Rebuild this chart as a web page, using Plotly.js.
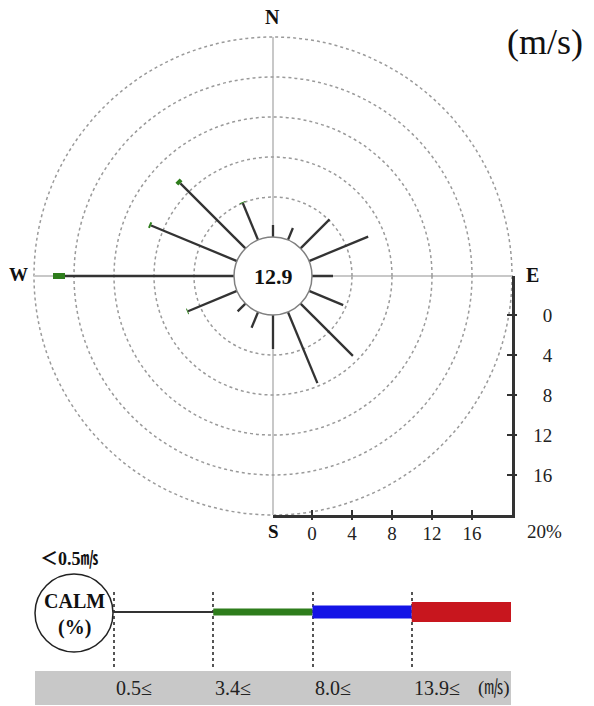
<!DOCTYPE html>
<html><head><meta charset="utf-8">
<script src="https://cdn.plot.ly/plotly-3.0.1.min.js"></script>
<style>html,body{margin:0;padding:0;background:#fff}#chart{width:594px;height:706px}</style>
</head><body><div id="chart"></div>
<script>
// ---- data ----
const directions = ['N','NNE','NE','ENE','E','ESE','SE','SSE','S','SSW','SW','WSW','W','WNW','NW','NNW'];
const freq_0_5_to_3_4  = [1.2,1.3,4.1,6.4,2.1,3.7,7.4,7.7,3.4,1.7,1.1,5.3,16.9,9.3,9.2,4.0];
const freq_3_4_to_8_0  = [0,0,0,0,0,0,0,0,0,0,0,0.1,1.2,0.2,0.4,0.1];
const freq_8_0_to_13_9 = [0,0,0,0,0,0,0,0,0,0,0,0,0,0,0,0];
const freq_13_9_up     = [0,0,0,0,0,0,0,0,0,0,0,0,0,0,0,0];
const calmPercent = 12.9;
const classLabels = ['0.5≤','3.4≤','8.0≤','13.9≤'];
const scaleTicks = [0,4,8,12,16];
const ringValues = [4,8,12,16,20];

// ---- styles ----
const classSeries = [freq_0_5_to_3_4, freq_3_4_to_8_0, freq_8_0_to_13_9, freq_13_9_up];
const classColors = ['#333333','#2e7d1c','#1414e6','#c8161e'];
const roseWidths  = [2.3, 6, 11, 16];
const legendWidths = [2, 7, 13, 20];
const SERIF = 'Liberation Serif, "Times New Roman", serif';

const W = 594, H = 706;
const px = x => x / W, py = y => 1 - y / H;
const CX = 273, CY = 276, R0 = 39, R = 239;
const RMAX = ringValues[ringValues.length - 1];

const traces = [];
// wind rose spokes, stacked by speed class
const base = directions.map(() => 0);
classSeries.forEach((vals, k) => {
  const r = [], th = [];
  vals.forEach((v, i) => {
    if (v > 0) { r.push(base[i], base[i] + v, null); th.push(directions[i], directions[i], null); }
    base[i] += v;
  });
  traces.push({type:'scatterpolar', mode:'lines', r:r, theta:th, connectgaps:false,
    line:{color:classColors[k], width:roseWidths[k]}, hoverinfo:'skip', showlegend:false});
});
// empty traces so that the scale axes are drawn
traces.push({type:'scatter', x:[], y:[], xaxis:'x', yaxis:'y', showlegend:false});
traces.push({type:'scatter', x:[], y:[], xaxis:'x2', yaxis:'y', showlegend:false});
traces.push({type:'scatter', x:[], y:[], xaxis:'x', yaxis:'y2', showlegend:false});
// legend bars
classLabels.forEach((lab, k) => {
  traces.push({type:'scatter', mode:'lines', x:[k, k+1], y:[0,0], xaxis:'x3', yaxis:'y3',
    line:{color:classColors[k], width:legendWidths[k]}, hoverinfo:'skip', showlegend:false});
});

const axFont = {family:SERIF, size:19, color:'#222'};
function note(text, x, y, size, extra) {
  return Object.assign({text:text, x:px(x), y:py(y), xref:'paper', yref:'paper', xanchor:'center', yanchor:'middle',
    showarrow:false, font:{family:SERIF, size:size, color:'#111'}}, extra || {});
}
const layout = {
  width:W, height:H, margin:{l:0,r:0,t:0,b:0}, paper_bgcolor:'#fff', plot_bgcolor:'rgba(0,0,0,0)',
  showlegend:false,
  polar:{
    domain:{x:[px(CX-R), px(CX+R)], y:[py(CY+R), py(CY-R)]},
    hole:R0/R, bgcolor:'rgba(0,0,0,0)',
    radialaxis:{range:[0,RMAX], tickmode:'array', tickvals:ringValues, showticklabels:false, ticks:'',
      showline:false, gridcolor:'#9a9a9a', griddash:'dot', gridwidth:1.5},
    angularaxis:{type:'category', categoryarray:directions, rotation:90, direction:'clockwise',
      tickmode:'array', tickvals:['N','E','S','W'], showticklabels:false, ticks:'', showline:false,
      gridcolor:'#c8c8c8', gridwidth:2}
  },
  xaxis:{domain:[px(CX), px(CX+R)], range:[-R0/10, 20], anchor:'y2', tickmode:'array', tickvals:scaleTicks,
    ticks:'inside', ticklen:5, tickwidth:2, tickcolor:'#333', showline:true, linecolor:'#333', linewidth:2.5,
    showgrid:false, zeroline:false, tickfont:axFont},
  xaxis2:{domain:[px(CX), px(CX+R)], range:[-R0/10, 20], anchor:'y2', overlaying:'x', tickmode:'array', tickvals:scaleTicks,
    ticks:'outside', ticklen:4, tickwidth:2, tickcolor:'#333', showline:false, showticklabels:false,
    showgrid:false, zeroline:false},
  yaxis:{domain:[py(CY+R), py(CY)], range:[20, -R0/10], anchor:'x', side:'right',
    tickmode:'array', tickvals:scaleTicks, ticktext:scaleTicks.map(v => v < 10 ? '\u2007' + v : '' + v),
    ticks:'inside', ticklen:5, tickwidth:2, tickcolor:'#333', showline:true, linecolor:'#333', linewidth:2.5,
    showgrid:false, zeroline:false, tickfont:axFont, ticklabelstandoff:15},
  yaxis2:{domain:[py(CY+R), py(CY)], range:[20, -R0/10], anchor:'x', overlaying:'y', side:'right',
    tickmode:'array', tickvals:scaleTicks, ticks:'outside', ticklen:4, tickwidth:2, tickcolor:'#333',
    showline:false, showticklabels:false, showgrid:false, zeroline:false},
  xaxis3:{domain:[px(114 - 0.5*99.25), px(511)], range:[-0.5, 4], anchor:'y3', tickmode:'array', tickvals:[0,1,2,3],
    showticklabels:false, ticks:'', showgrid:true, gridcolor:'#555', griddash:'dot', gridwidth:2,
    zeroline:false, showline:false},
  yaxis3:{domain:[py(670), py(592)], range:[-58, 20], anchor:'x3', showticklabels:false, ticks:'',
    showgrid:false, zeroline:false, showline:false},
  shapes:[
    // outer ring (radial max) — plotly skips the grid circle at the range edge
    {type:'circle', xref:'paper', yref:'paper', x0:px(CX-R), x1:px(CX+R), y0:py(CY+R), y1:py(CY-R),
      line:{color:'#9a9a9a', width:1.5, dash:'dot'}, layer:'below'},
    {type:'circle', xref:'paper', yref:'paper', x0:px(CX-R0), x1:px(CX+R0), y0:py(CY+R0), y1:py(CY-R0),
      line:{color:'#808080', width:1.5}, fillcolor:'rgba(255,255,255,0)'},
    {type:'circle', xref:'paper', yref:'paper', x0:px(35), x1:px(113), y0:py(652), y1:py(574),
      line:{color:'#222', width:1.5}},
    {type:'rect', xref:'paper', yref:'paper', x0:px(35), x1:px(511), y0:py(705), y1:py(671),
      line:{width:0}, fillcolor:'#c8c8c8', layer:'below'}
  ],
  annotations:[
    note('<b>N</b>', 272, 17, 20),
    note('<b>W</b>', 18, 275, 19),
    note('<b>E</b>', 532, 275, 20),
    note('<b>S</b>', 273, 531, 19),
    note('20%', 544, 531, 19, {font:axFont}),
    note('<b>' + calmPercent.toFixed(1) + '</b>', CX, CY, 22),
    note('(m/s)', 545, 42, 36),
    note('<b>＜0.5㎧</b>', 38, 559, 18, {xanchor:'left', font:{family:SERIF + ', "Noto Sans CJK JP"', size:18, color:'#111'}}),
    note('<b>CALM</b>', 74, 601, 20),
    note('<b>(%)</b>', 74, 627, 20),
    note('(㎧)', 512, 688, 19, {xanchor:'right', font:{family:SERIF + ', "Noto Sans CJK JP"', size:19, color:'#222'}})
  ].concat(classLabels.map((lab, k) => ({text:lab, x:k, y:py(688), xref:'x3', yref:'paper', xanchor:'left', yanchor:'middle',
      showarrow:false, font:{family:SERIF, size:20, color:'#222'}})))
};
Plotly.newPlot('chart', traces, layout, {staticPlot:true, displayModeBar:false});
</script>
</body></html>
